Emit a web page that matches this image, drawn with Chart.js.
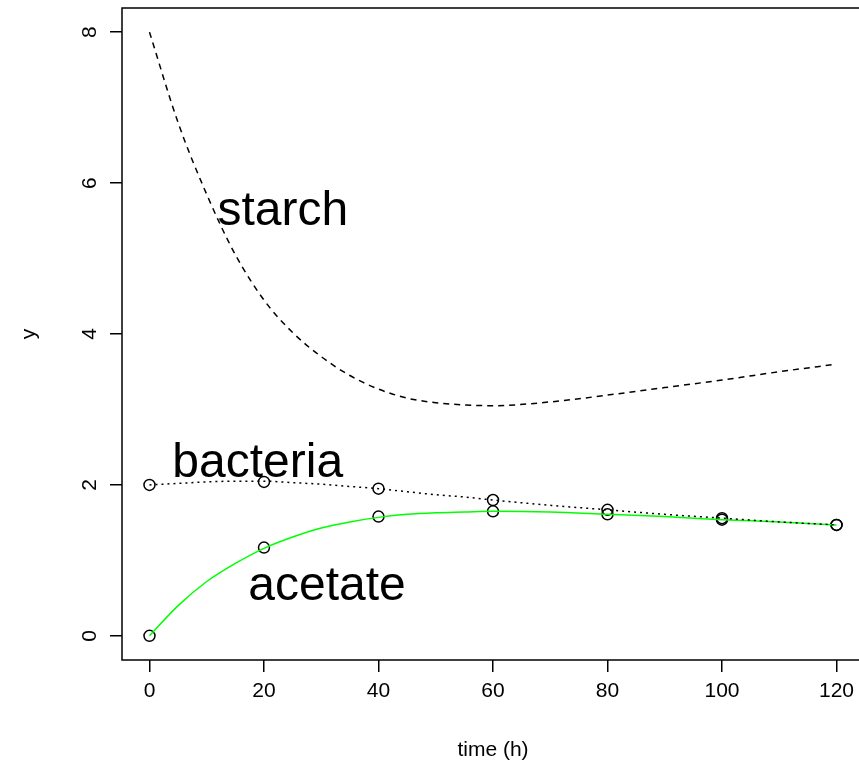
<!DOCTYPE html>
<html>
<head>
<meta charset="utf-8">
<script src="https://cdn.jsdelivr.net/npm/chart.js@4"></script>
<style>
  body { margin: 0; overflow: hidden; background: #fff; }
  #wrap { position: relative; width: 900px; height: 782px; }
</style>
</head>
<body>
<div id="wrap"><canvas id="kinetics"></canvas></div>
<script>
// measured samples
const sampleHours = [0, 20, 40, 60, 80, 100, 120];
const bacteriaObs = [2.0, 2.04, 1.95, 1.80, 1.67, 1.56, 1.47];
const acetateObs = [0, 1.17, 1.58, 1.65, 1.61, 1.54, 1.47];

// fitted model curves
const curveHours = [0, 5, 10, 15, 20, 25, 30, 35, 40, 45, 50, 55, 60, 70, 80, 90, 100, 110, 120];
const starchFit = [8.0, 6.8, 5.85, 5.05, 4.45, 4.02, 3.70, 3.45, 3.27, 3.15, 3.09, 3.06, 3.05, 3.10, 3.19, 3.29, 3.39, 3.50, 3.60];
const bacteriaFit = [2.0, 2.02, 2.04, 2.05, 2.05, 2.03, 2.01, 1.98, 1.95, 1.91, 1.87, 1.84, 1.80, 1.73, 1.67, 1.61, 1.56, 1.51, 1.47];
const acetateFit = [0, 0.40, 0.72, 0.96, 1.16, 1.31, 1.43, 1.51, 1.57, 1.61, 1.63, 1.64, 1.65, 1.64, 1.61, 1.58, 1.54, 1.51, 1.47];

// axis ticks
const xTicks = [0, 20, 40, 60, 80, 100, 120];
const yTicks = [0, 2, 4, 6, 8];

// curve labels (text, x, y in data units)
const labelText = ['starch', 'bacteria', 'acetate'];
const labelX = [23.3, 18.9, 31.0];
const labelY = [5.44, 2.11, 0.47];

const FONT = '"Liberation Sans", Arial, Helvetica, sans-serif';

function pts(xs, ys) {
    return xs.map((x, i) => ({ x: x, y: ys[i] }));
}

// box around the plot region + rotated y labels + curve names
const rPlotPlugin = {
    id: 'rPlot',
    afterDraw(chart) {
        const ctx = chart.ctx;
        const a = chart.chartArea;
        const ys = chart.scales.y;
        const xs = chart.scales.x;
        ctx.save();
        ctx.strokeStyle = '#000';
        ctx.lineWidth = 1.5;
        ctx.strokeRect(a.left, a.top, a.right - a.left, a.bottom - a.top);

        ctx.fillStyle = '#000';
        ctx.font = '21px ' + FONT;
        ctx.textAlign = 'center';
        ctx.textBaseline = 'middle';
        yTicks.forEach(v => {
            ctx.save();
            ctx.translate(90, ys.getPixelForValue(v));
            ctx.rotate(-Math.PI / 2);
            ctx.fillText(String(v), 0, 0);
            ctx.restore();
        });

        ctx.font = '48px ' + FONT;
        ctx.textBaseline = 'alphabetic';
        labelText.forEach((t, i) => {
            ctx.fillText(t, xs.getPixelForValue(labelX[i]), ys.getPixelForValue(labelY[i]));
        });
        ctx.restore();
    }
};

const ctx = document.getElementById('kinetics').getContext('2d');
const chart = new Chart(ctx, {
    type: 'scatter',
    data: {
        datasets: [
            {
                label: 'starch',
                data: pts(curveHours, starchFit),
                showLine: true,
                borderColor: '#000',
                borderWidth: 1.5,
                borderDash: [6, 5],
                pointRadius: 0,
                cubicInterpolationMode: 'monotone'
            },
            {
                label: 'bacteria fit',
                data: pts(curveHours, bacteriaFit),
                showLine: true,
                borderColor: '#000',
                borderWidth: 1.5,
                borderDash: [2, 4],
                pointRadius: 0,
                cubicInterpolationMode: 'monotone'
            },
            {
                label: 'acetate fit',
                data: pts(curveHours, acetateFit),
                showLine: true,
                borderColor: '#00ff00',
                borderWidth: 1.5,
                pointRadius: 0,
                cubicInterpolationMode: 'monotone'
            },
            {
                label: 'bacteria',
                data: pts(sampleHours, bacteriaObs),
                showLine: false,
                pointStyle: 'circle',
                pointRadius: 5.5,
                borderColor: '#000',
                borderWidth: 1.5,
                backgroundColor: 'rgba(0,0,0,0)'
            },
            {
                label: 'acetate',
                data: pts(sampleHours, acetateObs),
                showLine: false,
                pointStyle: 'circle',
                pointRadius: 5.5,
                borderColor: '#000',
                borderWidth: 1.5,
                backgroundColor: 'rgba(0,0,0,0)'
            }
        ]
    },
    options: {
        responsive: true,
        maintainAspectRatio: false,
        animation: false,
        layout: { padding: { top: 8, right: 36, left: 0, bottom: 0 } },
        plugins: {
            legend: { display: false },
            tooltip: { enabled: false }
        },
        scales: {
            x: {
                type: 'linear',
                min: -4.8,
                max: 124.8,
                afterBuildTicks: s => { s.ticks = xTicks.map(v => ({ value: v })); },
                afterFit: s => { s.height = 122; },
                border: { display: false },
                grid: { drawOnChartArea: false, drawTicks: true, tickLength: 12, color: '#000', lineWidth: 1.5 },
                ticks: { color: '#000', padding: 7, maxRotation: 0, font: { family: FONT, size: 21 } },
                title: { display: true, text: 'time (h)', color: '#000', font: { family: FONT, size: 21 }, padding: { top: 0, bottom: 19 } }
            },
            y: {
                type: 'linear',
                min: -0.32,
                max: 8.32,
                afterBuildTicks: s => { s.ticks = yTicks.map(v => ({ value: v })); },
                afterFit: s => { s.width = 122; },
                border: { display: false },
                grid: { drawOnChartArea: false, drawTicks: true, tickLength: 12, color: '#000', lineWidth: 1.5 },
                ticks: { display: false },
                title: { display: true, text: 'y', color: '#000', font: { family: FONT, size: 21 }, padding: { top: 17, bottom: 0 } }
            }
        }
    },
    plugins: [rPlotPlugin]
});
</script>
</body>
</html>
